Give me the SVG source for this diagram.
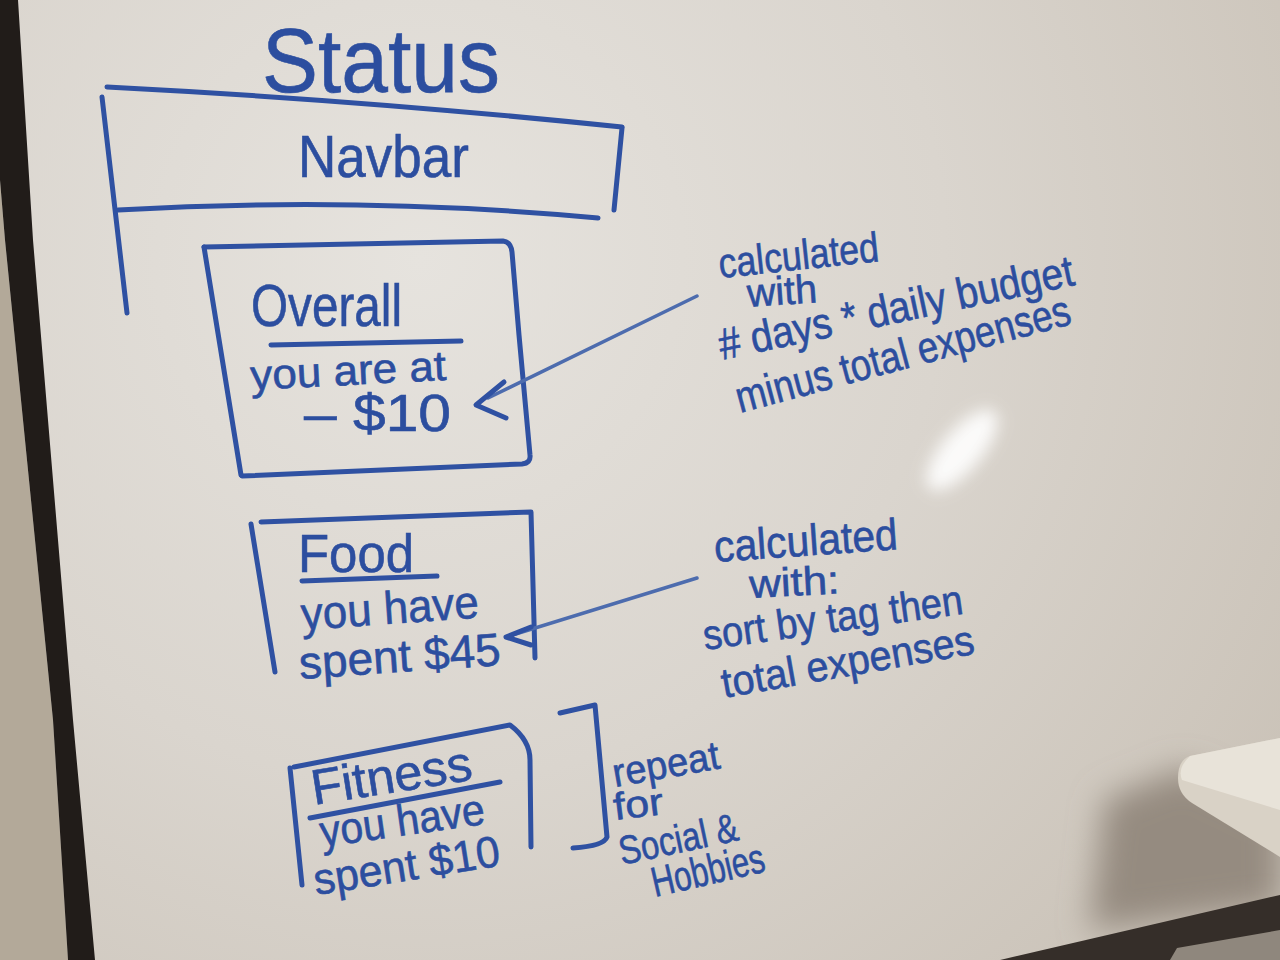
<svg xmlns="http://www.w3.org/2000/svg" width="1280" height="960" viewBox="0 0 1280 960">
<defs>
<radialGradient id="board" cx="420" cy="260" r="1050" gradientUnits="userSpaceOnUse">
<stop offset="0" stop-color="#e6e3de"/>
<stop offset="0.5" stop-color="#dad5ce"/>
<stop offset="1" stop-color="#c9c1b6"/>
</radialGradient>
<filter id="blur8" x="-50%" y="-50%" width="200%" height="200%"><feGaussianBlur stdDeviation="8"/></filter>
<filter id="blur18" x="-50%" y="-50%" width="200%" height="200%"><feGaussianBlur stdDeviation="16"/></filter>
<style>
.t{fill:#2c4e9f;stroke:#2c4e9f;stroke-width:0.6;font-family:"Liberation Sans",Arial,sans-serif}
.s{fill:none;stroke:#2f51a2;stroke-width:5;stroke-linecap:round;stroke-linejoin:round}
.c{fill:none;stroke:#4d6cae;stroke-width:3.5;stroke-linecap:round;stroke-linejoin:round}
</style>
</defs>

<!-- scene background -->
<rect x="0" y="0" width="1280" height="960" fill="url(#board)"/>
<polygon points="-15,0 5,240 53,720 68,960 0,960 0,0" fill="#b3a999"/>
<polygon points="-15,0 18,0 33,240 73,720 95,960 68,960 53,720 5,240" fill="#211c19"/>
<polygon points="1105,800 1185,768 1280,815 1280,905 1090,930" fill="#958b80" filter="url(#blur18)"/>
<polygon points="1000,960 1280,895 1280,960" fill="#352e29"/>
<polygon points="1177,948 1280,930 1280,960 1170,960" fill="#8f877d"/>
<path d="M1190,756 L1280,738 L1280,857 L1192,803 Q1178,794 1178,778 Q1178,760 1190,756 Z" fill="#d9d2c6"/>
<path d="M1190,756 L1280,738 L1280,810 L1182,780 Q1177,768 1190,756 Z" fill="#e8e3d9"/>
<ellipse cx="962" cy="450" rx="50" ry="20" transform="rotate(-50 962 450)" fill="#ffffff" opacity="0.9" filter="url(#blur8)"/>

<g id="title">
<text class="t" x="262" y="92" font-size="90" textLength="238" lengthAdjust="spacingAndGlyphs">Status</text>
</g>

<g id="navbar">
<path class="s" d="M107,87 Q360,100 622,127"/>
<path class="s" d="M102,97 L127,313"/>
<path class="s" d="M622,128 L614,210"/>
<path class="s" d="M118,210 Q360,196 598,218"/>
<text class="t" x="298" y="177" font-size="60" textLength="171" lengthAdjust="spacingAndGlyphs">Navbar</text>
</g>

<g id="overall">
<path class="s" d="M204,247 L503,241 Q511,242 512,252 L519,335 L530,455 Q531,463 522,464 L242,476"/>
<path class="s" d="M204,247 L241,475"/>
<text class="t" x="251" y="326" font-size="60" textLength="151" lengthAdjust="spacingAndGlyphs">Overall</text>
<path class="s" d="M271,345 L461,341" stroke-width="4"/>
<text class="t" x="251" y="390" font-size="42" textLength="196" lengthAdjust="spacingAndGlyphs" transform="rotate(-3 251 390)">you are at</text>
<text class="t" x="304" y="431" font-size="52" textLength="147" lengthAdjust="spacingAndGlyphs">– $10</text>
</g>

<g id="food">
<path class="s" d="M261,522 L531,512 L535,658"/>
<path class="s" d="M251,524 L275,672"/>
<text class="t" x="298" y="572" font-size="54" textLength="116" lengthAdjust="spacingAndGlyphs">Food</text>
<path class="s" d="M302,581 L437,576" stroke-width="4"/>
<text class="t" x="302" y="630" font-size="46" textLength="178" lengthAdjust="spacingAndGlyphs" transform="rotate(-4 302 630)">you have</text>
<text class="t" x="300" y="679" font-size="46" textLength="202" lengthAdjust="spacingAndGlyphs" transform="rotate(-4 300 679)">spent $45</text>
</g>

<g id="fitness">
<path class="s" d="M294,767 L510,725 Q530,740 530,760 L531,847"/>
<path class="s" d="M290,768 L302,885"/>
<text class="t" x="314" y="805" font-size="50" textLength="162" lengthAdjust="spacingAndGlyphs" transform="rotate(-9 314 805)">Fitness</text>
<path class="s" d="M310,818 L500,782"/>
<text class="t" x="322" y="847" font-size="44" textLength="166" lengthAdjust="spacingAndGlyphs" transform="rotate(-8 322 847)">you have</text>
<text class="t" x="316" y="895" font-size="44" textLength="188" lengthAdjust="spacingAndGlyphs" transform="rotate(-9 316 895)">spent $10</text>
</g>

<g id="note-overall">
<text class="t" x="720" y="278" font-size="42" textLength="161" lengthAdjust="spacingAndGlyphs" transform="rotate(-6 720 278)">calculated</text>
<text class="t" x="748" y="307" font-size="40" textLength="70" lengthAdjust="spacingAndGlyphs" transform="rotate(-4 748 307)">with</text>
<text class="t" x="722" y="360" font-size="44" textLength="362" lengthAdjust="spacingAndGlyphs" transform="rotate(-12 722 360)"># days * daily budget</text>
<text class="t" x="740" y="413" font-size="44" textLength="345" lengthAdjust="spacingAndGlyphs" transform="rotate(-15 740 413)">minus total expenses</text>
</g>

<g id="note-food">
<text class="t" x="715" y="562" font-size="44" textLength="184" lengthAdjust="spacingAndGlyphs" transform="rotate(-4 715 562)">calculated</text>
<text class="t" x="750" y="598" font-size="40" textLength="90" lengthAdjust="spacingAndGlyphs" transform="rotate(-3 750 598)">with:</text>
<text class="t" x="705" y="650" font-size="42" textLength="262" lengthAdjust="spacingAndGlyphs" transform="rotate(-8 705 650)">sort by tag then</text>
<text class="t" x="724" y="698" font-size="42" textLength="256" lengthAdjust="spacingAndGlyphs" transform="rotate(-10 724 698)">total expenses</text>
</g>

<g id="note-repeat">
<text class="t" x="615" y="787" font-size="40" textLength="108" lengthAdjust="spacingAndGlyphs" transform="rotate(-10 615 787)">repeat</text>
<text class="t" x="615" y="820" font-size="38" textLength="50" lengthAdjust="spacingAndGlyphs" transform="rotate(-7 615 820)">for</text>
<text class="t" x="622" y="865" font-size="40" textLength="121" lengthAdjust="spacingAndGlyphs" transform="rotate(-12 622 865)">Social &amp;</text>
<text class="t" x="655" y="897" font-size="42" textLength="115" lengthAdjust="spacingAndGlyphs" transform="rotate(-13 655 897)">Hobbies</text>
</g>

<g id="connectors">
<path class="c" d="M697,296 L488,398"/>
<path class="s" d="M504,382 L476,405 L506,418"/>
<path class="c" d="M697,578 L506,637"/>
<path class="s" d="M531,627 L506,637 L531,645"/>
<path class="s" d="M560,713 L595,705 L607,837 Q604,846 573,848"/>
</g>
</svg>
